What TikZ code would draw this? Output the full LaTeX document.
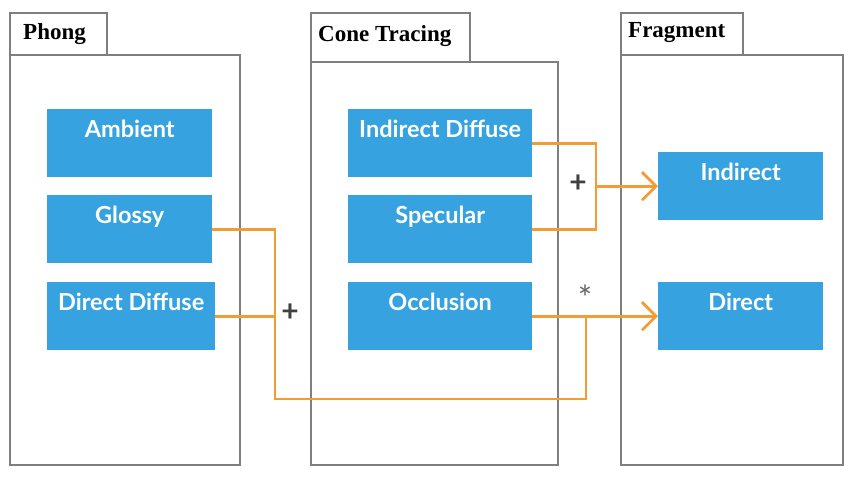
\documentclass[tikz,border=0pt]{standalone}
\usepackage{fontspec}
\setmainfont{Liberation Serif}
\newfontfamily\boxfont{Lato}
\usetikzlibrary{arrows.meta}
\definecolor{boxblue}{HTML}{36A3E0}
\definecolor{lineorange}{HTML}{F39B35}
\definecolor{framegray}{HTML}{7F7F7F}
\definecolor{signgray}{HTML}{404040}
\tikzset{
  frame/.style={draw=framegray, line width=2.6pt, fill=white},
  tabtext/.style={font=\bfseries\fontsize{23}{26}\selectfont, anchor=west, inner sep=0pt},
  bluebox/.style={fill=boxblue, draw=none, anchor=north west, inner xsep=0pt, inner ysep=7pt,
    text height=21pt, text depth=33pt, text=white, font=\boxfont\bfseries\fontsize{23.5}{26}\selectfont,
    minimum width=#1},
  bluebox/.default=165pt,
  oline/.style={draw=lineorange, line width=2.8pt},
  oarrow/.style={oline, -{Straight Barb[length=14pt,width=28pt,line width=2.8pt]}},
  sign/.style={text=signgray, font=\boxfont\bfseries\fontsize{30}{32}\selectfont, inner sep=0pt}
}
\begin{document}
\begin{tikzpicture}[x=1pt,y=-1pt]
\useasboundingbox (0,0) rectangle (865,491);
% frames
\draw[frame] (10,13) rectangle (107,55);
\draw[frame] (10,55) rectangle (240,465);
\node[tabtext] (tphong) at (23,34) {Phong};
\draw[frame] (311,13) rectangle (470,62);
\draw[frame] (311,62) rectangle (558,465);
\node[tabtext] (tcone) at (318,36) {Cone Tracing};
\draw[frame] (621,13) rectangle (743,55);
\draw[frame] (621,55) rectangle (843,465);
\node[tabtext] (tfrag) at (628,33) {Fragment};
% blue boxes
\node[bluebox] (am) at (47,109) {Ambient};
\node[bluebox] (gl) at (47,195) {Glossy};
\node[bluebox=168pt] (dd) at (47,282) {Direct Diffuse};
\node[bluebox=184pt] (id) at (348,109) {Indirect Diffuse};
\node[bluebox=184pt] (sp) at (348,195) {Specular};
\node[bluebox=184pt] (oc) at (348,282) {Occlusion};
\node[bluebox] (in) at (658,152) {Indirect};
\node[bluebox] (di) at (658,282) {Direct};
% junctions
\coordinate (jl) at (275,399);
\coordinate (jb) at (586,399);
\coordinate (jr) at (596,0);
% connectors
\draw[oline] (gl.east) -| (jl) -- (jb) -- (jb |- oc.east);
\draw[oline] (dd.east) -- (dd.east -| jl);
\draw[oarrow] (oc.east) -- (di.west);
\draw[oline] (id.east) -| (jr |- sp.east) -- (sp.east);
\draw[oarrow] (jr |- in.west) -- (in.west);
% signs
\node[sign] (p1) at (290,313) {+};
\node[sign] (p2) at (578,184) {+};
\node[sign, font=\boxfont\fontsize{34}{36}\selectfont, text=signgray!80] (st) at (585,298) {*};
\end{tikzpicture}
\end{document}
